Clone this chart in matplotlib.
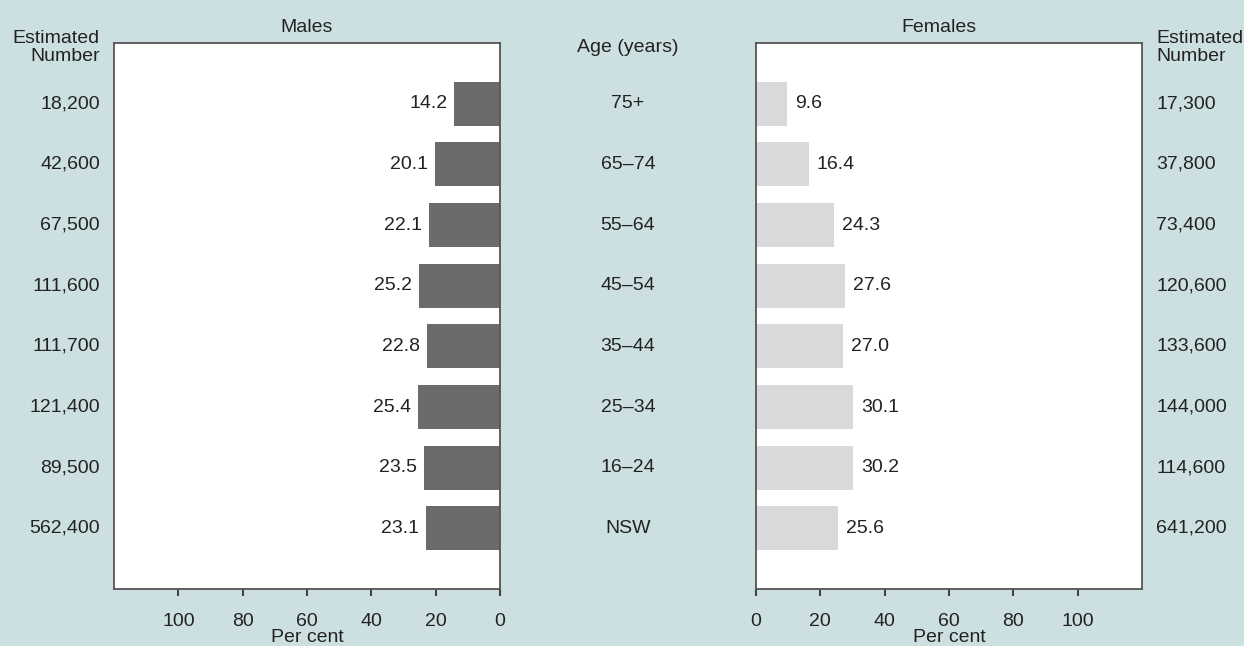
import matplotlib
matplotlib.use("Agg")
import matplotlib.pyplot as plt
import matplotlib.transforms as mtransforms

plt.rcParams['font.family'] = ['Liberation Sans', 'DejaVu Sans']

ages = ["75+", "65–74", "55–64", "45–54", "35–44", "25–34", "16–24", "NSW"]
males_pct = [14.2, 20.1, 22.1, 25.2, 22.8, 25.4, 23.5, 23.1]
females_pct = [9.6, 16.4, 24.3, 27.6, 27.0, 30.1, 30.2, 25.6]
males_num = ["18,200", "42,600", "67,500", "111,600", "111,700", "121,400", "89,500", "562,400"]
females_num = ["17,300", "37,800", "73,400", "120,600", "133,600", "144,000", "114,600", "641,200"]
ticks = [0, 20, 40, 60, 80, 100]

BG = "#cde0e1"
DARK = "#6b6b6c"
LIGHT = "#d9d9db"
TXT = "#222222"
FS = 14

W, H = 1244, 646
fig = plt.figure(figsize=(W / 100, H / 100), dpi=100, facecolor=BG)

ax_m = fig.add_axes([114 / W, 57 / H, 386 / W, 546 / H])
ax_f = fig.add_axes([756 / W, 57 / H, 386 / W, 546 / H])

n = len(ages)
ypos = [n - 1 - i for i in range(n)]

for ax in (ax_m, ax_f):
    ax.set_facecolor("white")
    ax.set_ylim(-1, n)
    ax.set_yticks([])
    ax.set_xticks(ticks)
    ax.set_xticklabels([str(t) for t in ticks], fontsize=FS, color=TXT)
    ax.tick_params(axis='x', direction='out', length=5, width=1.5, color="#444444", pad=12)
    for s in ax.spines.values():
        s.set_color("#555555")
        s.set_linewidth(1.3)

ax_m.set_xlim(120, 0)
ax_f.set_xlim(0, 120)

ax_m.barh(ypos, males_pct, height=0.72, color=DARK)
ax_f.barh(ypos, females_pct, height=0.72, color=LIGHT)

for y, v in zip(ypos, males_pct):
    ax_m.annotate(f"{v:.1f}", (v, y), xytext=(-7, 0), textcoords='offset pixels',
                  ha='right', va='center', fontsize=FS, color=TXT)
for y, v in zip(ypos, females_pct):
    ax_f.annotate(f"{v:.1f}", (v, y), xytext=(8, 0), textcoords='offset pixels',
                  ha='left', va='center', fontsize=FS, color=TXT)

fig.text(307 / W, 1 - 28 / H, "Males", fontsize=FS, color=TXT, ha='center', va='center')
fig.text(939 / W, 1 - 28 / H, "Females", fontsize=FS, color=TXT, ha='center', va='center')
fig.text(307 / W, 1 - 637 / H, "Per cent", fontsize=FS, color=TXT, ha='center', va='center')
fig.text(949 / W, 1 - 637 / H, "Per cent", fontsize=FS, color=TXT, ha='center', va='center')

tr = mtransforms.blended_transform_factory(fig.transFigure, ax_m.transData)
for y, a, mn, fn in zip(ypos, ages, males_num, females_num):
    fig.text(100 / W, y, mn, transform=tr, ha='right', va='center', fontsize=FS, color=TXT)
    fig.text(628 / W, y, a, transform=tr, ha='center', va='center', fontsize=FS, color=TXT)
    fig.text(1156 / W, y, fn, transform=tr, ha='left', va='center', fontsize=FS, color=TXT)

fig.text(100 / W, 1 - 47.5 / H, "Estimated\nNumber", ha='right', va='center',
         fontsize=FS, color=TXT, linespacing=1.15)
fig.text(1156 / W, 1 - 47.5 / H, "Estimated\nNumber", ha='left', va='center',
         fontsize=FS, color=TXT, linespacing=1.15)
fig.text(628 / W, 1 - 47 / H, "Age (years)", ha='center', va='center', fontsize=FS, color=TXT)

fig.savefig("out.png", dpi=100, facecolor=BG)
